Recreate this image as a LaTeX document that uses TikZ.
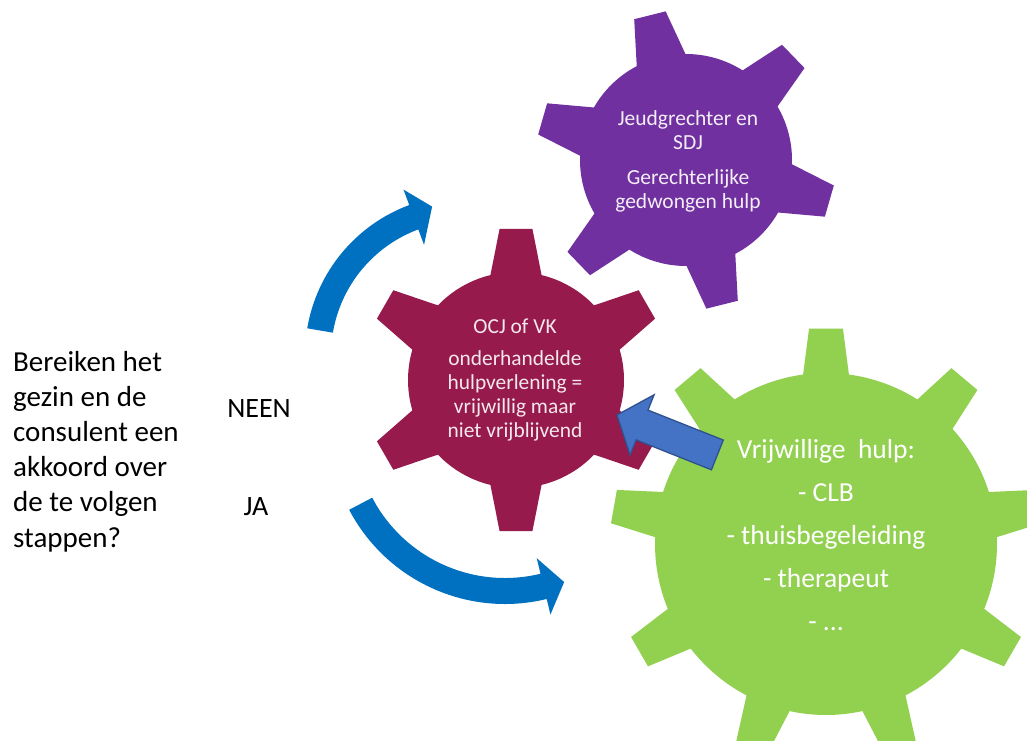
\documentclass[tikz,border=0pt]{standalone}
\usepackage{fontspec}
\setmainfont{Carlito}
\definecolor{gearmaroon}{HTML}{961A4C}
\definecolor{gearpurple}{HTML}{7030A0}
\definecolor{geargreen}{HTML}{92D050}
\definecolor{arcblue}{HTML}{0070C0}
\definecolor{blockblue}{HTML}{4472C4}
\definecolor{blockedge}{HTML}{2F528F}
% gear outline: #1 body radius, #2 outer radius, #3 teeth, #4 phase, #5 base half-angle, #6 tip half-angle
\newcommand{\gearoutline}[6]{%
  ({#4-#5}:#1)
  \foreach \k [evaluate=\k as \th using #4+360*(\k-1)/#3] in {1,...,#3} {
    -- ({\th-#5}:#1) -- ({\th-#6}:#2) -- ({\th+#6}:#2) -- ({\th+#5}:#1)
    arc[start angle={\th+#5}, end angle={\th+360/#3-#5}, radius={#1*1pt}]
  } -- cycle}
% curved arrow: #1 mid radius, #2 half width, #3 head half width, #4 tail angle, #5 head base angle, #6 tip angle, #7 tip radius
\newcommand{\bentarrow}[7]{%
  ({#4}:{#1+#2}) arc[start angle={#4}, end angle={#5}, radius={(#1+#2)*1pt}]
  -- ({#5}:{#1+#3}) -- ({#6}:{#7}) -- ({#5}:{#1-#3}) -- ({#5}:{#1-#2})
  arc[start angle={#5}, end angle={#4}, radius={(#1-#2)*1pt}] -- cycle}
\tikzset{
  sidetext/.style={inner sep=0pt, text=black, font=\fontsize{29}{35.2}\selectfont},
  geartext/.style={inner sep=0pt, align=center, text=white},
}
\begin{document}
\begin{tikzpicture}[x=1pt, y=1pt]
\clip (0,0) rectangle (1027,740);
\fill[white] (0,0) rectangle (1027,740);
% gears
\fill[geargreen, shift={(826,196)}] \gearoutline{171}{216}{9}{90}{7.7}{4.5};
\fill[gearmaroon, shift={(516,360)}] \gearoutline{108}{152}{6}{90}{13.7}{6.2};
\fill[gearpurple, shift={(686,580)}] \gearoutline{106}{150}{6}{104}{13.7}{6.2};
% curved arrows
\fill[arcblue, shift={(465,385)}] \bentarrow{147}{13}{29.5}{170.4}{110.4}{102.5}{152};
\fill[arcblue, shift={(505,312)}] \bentarrow{163}{13}{29}{207.7}{283.7}{291}{165};
% block arrow
\begin{scope}[shift={(617,325)}, rotate=-21.7]
\filldraw[fill=blockblue, draw=blockedge, line width=1.3pt, line join=miter]
  (0,0) -- (27,32.5) -- (27,16) -- (108,16) -- (108,-16) -- (27,-16) -- (27,-32.5) -- cycle;
\end{scope}
% texts (base anchor = baseline of the last line)
\node[sidetext, align=left, anchor=base west] (question) at (13,193)
  {Bereiken het\\gezin en de\\consulent een\\akkoord over\\de te volgen\\stappen?};
\node[sidetext, font=\fontsize{28}{34}\selectfont, anchor=base] (neen) at (259,323) {NEEN};
\node[sidetext, font=\fontsize{28}{34}\selectfont, anchor=base] (ja) at (256,225) {JA};
\node[geartext, text=white!92!gearpurple, font=\fontsize{21.5}{24}\selectfont, anchor=base] (sdj) at (688,531)
  {Jeudgrechter en\\SDJ\\[11pt]Gerechterlijke\\gedwongen hulp};
\node[geartext, text=white!90!gearmaroon, font=\fontsize{21.4}{24}\selectfont, anchor=base] (ocj) at (515,303)
  {OCJ of VK\\[8pt]onderhandelde\\hulpverlening =\\vrijwillig maar\\niet vrijblijvend};
\node[geartext, font=\fontsize{27.5}{43}\selectfont, anchor=base] (vrij) at (826,110)
  {Vrijwillige\ \ hulp:\\- CLB\\- thuisbegeleiding\\- therapeut\\- ...};
\end{tikzpicture}
\end{document}
